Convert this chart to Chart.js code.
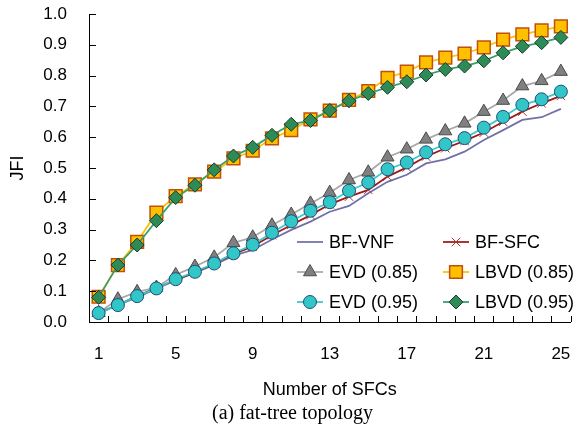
<!DOCTYPE html>
<html>
<head>
<meta charset="utf-8">
<script src="https://cdn.jsdelivr.net/npm/chart.js@4/dist/chart.umd.min.js"></script>
<style>
  html, body { margin: 0; padding: 0; background: #fff; }
  #wrap { width: 581px; height: 430px; }
</style>
</head>
<body>
<div id="wrap"><canvas id="jfiChart" width="581" height="430"></canvas></div>
<script>
// number of SFCs (categories)
var sfcCounts = ["1", "2", "3", "4", "5", "6", "7", "8", "9", "10", "11", "12", "13",
    "14", "15", "16", "17", "18", "19", "20", "21", "22", "23", "24", "25"];

// JFI per series
var bfVnf = [0.028, 0.055, 0.080, 0.108, 0.135, 0.160, 0.185, 0.215, 0.234, 0.268, 0.299, 0.326, 0.358,
    0.377, 0.418, 0.455, 0.478, 0.515, 0.528, 0.553, 0.591, 0.623, 0.656, 0.665, 0.692];
var bfSfc = [0.030, 0.055, 0.085, 0.110, 0.138, 0.160, 0.190, 0.220, 0.245, 0.282, 0.315, 0.347, 0.382,
    0.407, 0.429, 0.472, 0.502, 0.537, 0.564, 0.588, 0.615, 0.650, 0.683, 0.710, 0.734];
var evd085 = [0.030, 0.074, 0.098, 0.112, 0.153, 0.180, 0.210, 0.257, 0.275, 0.314, 0.349, 0.385, 0.420,
    0.461, 0.486, 0.535, 0.561, 0.593, 0.620, 0.645, 0.683, 0.719, 0.766, 0.783, 0.813];
var lbvd085 = [0.082, 0.185, 0.260, 0.355, 0.409, 0.447, 0.488, 0.531, 0.556, 0.596, 0.623, 0.658, 0.686,
    0.721, 0.750, 0.793, 0.813, 0.843, 0.858, 0.871, 0.892, 0.917, 0.934, 0.947, 0.960];
var evd095 = [0.029, 0.055, 0.084, 0.109, 0.139, 0.163, 0.190, 0.223, 0.251, 0.290, 0.327, 0.361, 0.389,
    0.426, 0.453, 0.496, 0.518, 0.551, 0.577, 0.597, 0.631, 0.666, 0.705, 0.723, 0.748];
var lbvd095 = [0.080, 0.185, 0.250, 0.329, 0.404, 0.444, 0.494, 0.539, 0.567, 0.606, 0.642, 0.654, 0.687,
    0.718, 0.742, 0.762, 0.780, 0.802, 0.820, 0.831, 0.848, 0.874, 0.895, 0.907, 0.924];

// y tick labels
var yTicks = [0, 0.1, 0.2, 0.3, 0.4, 0.5, 0.6, 0.7, 0.8, 0.9, 1.0];

Chart.defaults.font.family = '"Liberation Sans", Arial, sans-serif';
Chart.defaults.color = '#000';

// ticks pointing into the plot, like the original figure
var innerTicks = {
    id: 'innerTicks',
    afterDatasetsDraw: function (chart) {
        var ctx = chart.ctx, xs = chart.scales.x, ys = chart.scales.y;
        var step = xs.getPixelForValue(1) - xs.getPixelForValue(0);
        ctx.save();
        ctx.strokeStyle = '#000';
        ctx.lineWidth = 1;
        ctx.beginPath();
        yTicks.forEach(function (v) {
            var py = Math.round(ys.getPixelForValue(v)) + 0.5;
            ctx.moveTo(xs.left, py);
            ctx.lineTo(xs.left + 7, py);
        });
        for (var i = 0; i <= sfcCounts.length; i++) {
            var px = Math.round(xs.getPixelForValue(i) - step / 2) + 0.5;
            ctx.moveTo(px, ys.bottom);
            ctx.lineTo(px, ys.bottom - 6);
        }
        ctx.stroke();
        ctx.restore();
    }
};

// two-column legend inside the plot, line + marker samples
var boxLegend = {
    id: 'boxLegend',
    afterDraw: function (chart) {
        var ctx = chart.ctx, area = chart.chartArea;
        var rows = [-80, -50, -20];
        var cols = [208, 354];
        ctx.save();
        ctx.font = '18px "Liberation Sans", Arial, sans-serif';
        ctx.textBaseline = 'middle';
        ctx.textAlign = 'left';
        chart.data.datasets.forEach(function (ds, k) {
            var x0 = area.left + cols[k % 2];
            var y = area.bottom + rows[Math.floor(k / 2)];
            ctx.strokeStyle = ds.borderColor;
            ctx.lineWidth = ds.borderWidth;
            ctx.beginPath();
            ctx.moveTo(x0, y);
            ctx.lineTo(x0 + 26, y);
            ctx.stroke();
            if (ds.pointRadius > 0) {
                ctx.fillStyle = ds.pointBackgroundColor;
                ctx.strokeStyle = ds.pointBorderColor;
                ctx.lineWidth = ds.pointBorderWidth;
                Chart.helpers.drawPoint(ctx, {
                    pointStyle: ds.pointStyle, radius: ds.pointRadius, rotation: 0,
                    borderWidth: ds.pointBorderWidth
                }, x0 + 13, y);
            }
            ctx.fillStyle = '#000';
            ctx.fillText(ds.label, x0 + 32, y + 1);
        });
        ctx.restore();
    }
};

var ctxJfi = document.getElementById('jfiChart').getContext('2d');
var chart = new Chart(ctxJfi, {
    type: 'line',
    data: {
        labels: sfcCounts,
        datasets: [{
            label: 'BF-VNF',
            data: bfVnf,
            borderColor: '#7070a8',
            borderWidth: 1.75,
            pointRadius: 0,
            order: 5
        }, {
            label: 'BF-SFC',
            data: bfSfc,
            borderColor: '#9c1a1a',
            borderWidth: 1.75,
            pointStyle: 'crossRot',
            pointRadius: 6,
            pointBackgroundColor: '#9c1a1a',
            pointBorderColor: '#b03030',
            pointBorderWidth: 1,
            order: 3
        }, {
            label: 'EVD (0.85)',
            data: evd085,
            borderColor: '#a8a8a8',
            borderWidth: 1.75,
            pointStyle: 'triangle',
            pointRadius: 7.5,
            pointBackgroundColor: '#808080',
            pointBorderColor: '#4a4a4a',
            pointBorderWidth: 1,
            order: 4
        }, {
            label: 'LBVD (0.85)',
            data: lbvd085,
            borderColor: '#ffc000',
            borderWidth: 1.75,
            pointStyle: 'rect',
            pointRadius: 9,
            pointBackgroundColor: '#ffc000',
            pointBorderColor: '#c0500a',
            pointBorderWidth: 1.5,
            order: 1
        }, {
            label: 'EVD (0.95)',
            data: evd095,
            borderColor: '#33cccc',
            borderWidth: 1.75,
            pointStyle: 'circle',
            pointRadius: 6.5,
            pointBackgroundColor: '#33c6c6',
            pointBorderColor: '#1f4e79',
            pointBorderWidth: 1,
            order: 2
        }, {
            label: 'LBVD (0.95)',
            data: lbvd095,
            borderColor: '#3a9e6a',
            borderWidth: 1.75,
            pointStyle: 'rectRot',
            pointRadius: 7,
            pointBackgroundColor: '#2e8b57',
            pointBorderColor: '#173f25',
            pointBorderWidth: 1,
            order: 0
        }]
    },
    options: {
        responsive: false,
        animation: false,
        layout: { padding: { left: 0, right: -4, top: 14, bottom: 0 } },
        plugins: {
            legend: { display: false },
            tooltip: { enabled: false },
            title: {
                display: true,
                position: 'bottom',
                text: '(a) fat-tree topology',
                color: '#000',
                font: { family: '"Liberation Serif", "Times New Roman", serif', size: 20, weight: 'normal' },
                padding: { top: 0, bottom: 4 }
            }
        },
        scales: {
            x: {
                offset: true,
                grid: { display: false, drawTicks: true, tickLength: 20, offset: true },
                border: { display: true, color: '#000', width: 1 },
                afterFit: function (scale) {
                    scale.paddingLeft = 0;
                    scale.paddingRight = 0;
                    scale.height = 80;
                },
                ticks: {
                    autoSkip: false,
                    maxRotation: 0,
                    padding: 2,
                    font: { size: 17 },
                    callback: function (value, index) {
                        return index % 4 === 0 ? sfcCounts[index] : '';
                    }
                },
                title: {
                    display: true,
                    text: 'Number of SFCs',
                    font: { size: 18 },
                    padding: { top: 12, bottom: 1 }
                }
            },
            y: {
                min: 0,
                max: 1,
                grid: { display: false, drawTicks: false },
                border: { display: true, color: '#000', width: 1 },
                afterBuildTicks: function (scale) {
                    scale.ticks = yTicks.map(function (v) { return { value: v }; });
                },
                afterFit: function (scale) {
                    scale.paddingTop = 0;
                    scale.paddingBottom = 0;
                    scale.width = 89;
                },
                ticks: {
                    padding: 22,
                    font: { size: 17 },
                    callback: function (value) { return value.toFixed(1); }
                },
                title: {
                    display: true,
                    text: 'JFI',
                    font: { size: 18 },
                    padding: { top: 7, bottom: 10 }
                }
            }
        }
    },
    plugins: [innerTicks, boxLegend]
});
</script>
</body>
</html>
